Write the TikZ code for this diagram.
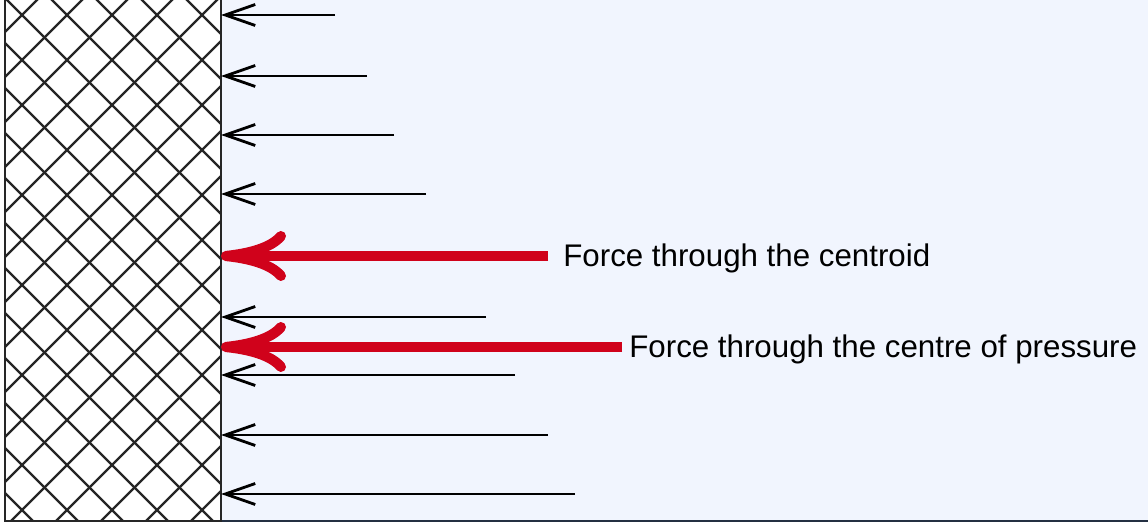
\documentclass[tikz,border=0pt]{standalone}
\usepackage{fontspec}
\setmainfont{Liberation Sans}
\usetikzlibrary{positioning,arrows.meta}
\definecolor{waterblue}{RGB}{241,245,254}
\definecolor{forcered}{RGB}{208,2,27}
\definecolor{floorline}{RGB}{36,48,66}

\begin{document}
\begin{tikzpicture}
[wall/.style={rectangle, draw=black!85, fill=white, line width=1.5pt, minimum width=4.32cm, minimum height=10.6cm, inner sep=0pt, outer sep=0pt,
  path picture={
    \foreach \k [evaluate=\k as \c using -7.8+0.9*\k] in {0,...,17}
      \draw[line width=1.4pt] ({\c-12},12) -- ({\c+12},-12);
    \foreach \k [evaluate=\k as \d using -7.54+0.9*\k] in {0,...,17}
      \draw[line width=1.4pt] ({\d-12},-12) -- ({\d+12},12);
  }},
push/.style={line width=1.6pt, -{Straight Barb[length=0.6cm, width=0.42cm]}},
resultant/.style={forcered, line width=5.8pt, -{Computer Modern Rightarrow[length=1.3cm, width=1cm]}},
note/.style={inner sep=0pt, yshift=-0.05cm, font=\fontsize{17.8}{21}\selectfont},
]
\clip (0,0) rectangle (22.96,10.54);
\fill[waterblue] (4.42,0.12) rectangle (23.2,10.8);
\draw[floorline, line width=1.5pt] (4.42,0.12) -- (23.2,0.12);
\node[wall] (wall) at (2.26,5.42) {};

\coordinate (p1) at (6.70,10.24);
\coordinate (p2) at (7.34,9.02);
\coordinate (p3) at (7.88,7.84);
\coordinate (p4) at (8.52,6.66);
\coordinate (p5) at (9.72,4.20);
\coordinate (p6) at (10.30,3.04);
\coordinate (p7) at (10.96,1.84);
\coordinate (p8) at (11.50,0.66);
\coordinate (centroid) at (10.96,5.42);
\coordinate (centre) at (12.44,3.60);

\foreach \p in {p1,p2,p3,p4,p5,p6,p7,p8}
  \draw[push] (\p) -- (\p -| wall.east);

\draw[resultant] (centroid) -- (centroid -| wall.east);
\draw[resultant] (centre) -- (centre -| wall.east);

\node[note, right=0.3cm of centroid] (centroid label) {Force through the centroid};
\node[note, right=0.14cm of centre] (centre label) {Force through the centre of pressure};
\end{tikzpicture}
\end{document}
